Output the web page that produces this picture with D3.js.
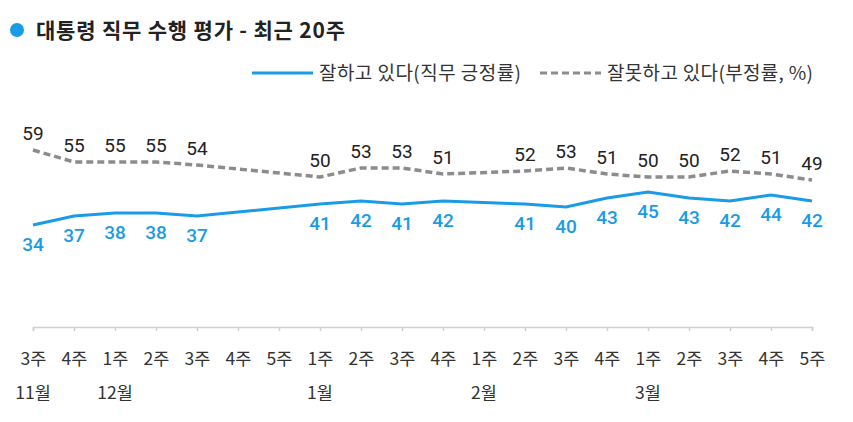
<!DOCTYPE html>
<html><head><meta charset="utf-8">
<script src="https://cdn.jsdelivr.net/npm/d3@7"></script>
<style>
body{margin:0;background:#fff;font-family:"Noto Sans CJK KR","Noto Sans",sans-serif;}
</style></head>
<body><svg id="c" width="853" height="422"></svg>
<script>
const weeks = ["3주","4주","1주","2주","3주","4주","5주","1주","2주","3주","4주","1주","2주","3주","4주","1주","2주","3주","4주","5주"];
const months = ["11월","","12월","","","","","1월","","","","2월","","","","3월","","","",""];
const positive = [34,37,38,38,37,null,null,41,42,41,42,null,41,40,43,45,43,42,44,42];
const negative = [59,55,55,55,54,null,null,50,53,53,51,null,52,53,51,50,50,52,51,49];

const svg = d3.select("#c");
const idx = d3.range(weeks.length);
const x = d3.scalePoint().domain(idx).range([33, 812]);
const y = d3.scaleLinear().domain([0, 100]).range([327, 27]);

const blue = "#1a9be6", gray = "#8c8c8c";

// title
svg.append("circle").attr("cx",17).attr("cy",30).attr("r",7).attr("fill",blue);
svg.append("text").attr("x",36).attr("y",38).attr("font-size",21).attr("font-weight",700)
  .attr("fill","#222").attr("textLength",309).attr("lengthAdjust","spacing")
  .text("대통령 직무 수행 평가 - 최근 20주");

// legend
svg.append("line").attr("x1",252).attr("x2",313).attr("y1",73).attr("y2",73).attr("stroke",blue).attr("stroke-width",3);
svg.append("text").attr("x",319).attr("y",80).attr("font-size",19).attr("fill","#333")
  .attr("textLength",202).attr("lengthAdjust","spacing").text("잘하고 있다(직무 긍정률)");
svg.append("line").attr("x1",540).attr("x2",601).attr("y1",73).attr("y2",73).attr("stroke",gray).attr("stroke-width",3).attr("stroke-dasharray","7,4");
svg.append("text").attr("x",607).attr("y",80).attr("font-size",19).attr("fill","#333")
  .attr("textLength",206).attr("lengthAdjust","spacing").text("잘못하고 있다(부정률, %)");

// axis
const ax = svg.append("g").attr("transform","translate(0,327)")
  .call(d3.axisBottom(x).tickSize(4).tickFormat(i => weeks[i]));
ax.select(".domain").attr("stroke","#d0d0d0").attr("stroke-width",1.5);
ax.selectAll(".tick line").attr("stroke","#d0d0d0").attr("stroke-width",1.5);
ax.selectAll(".tick text").attr("font-size",17.5).attr("fill","#333").attr("dy",0).attr("y",38)
  .attr("font-family","'Noto Sans CJK KR',sans-serif");
svg.append("g").selectAll("text").data(idx.filter(i => months[i])).join("text")
  .attr("x", i => x(i)).attr("y", 399).attr("text-anchor","middle")
  .attr("font-size",17.5).attr("fill","#333").text(i => months[i]);

// lines
const mk = arr => d3.line().x(d => x(d)).y(d => y(arr[d]));
const defP = idx.filter(i => positive[i] != null);
const defN = idx.filter(i => negative[i] != null);
svg.append("path").attr("d", mk(negative)(defN)).attr("fill","none").attr("stroke",gray)
  .attr("stroke-width",3.5).attr("stroke-dasharray","7,4");
svg.append("path").attr("d", mk(positive)(defP)).attr("fill","none").attr("stroke",blue)
  .attr("stroke-width",3);

// labels
svg.append("g").selectAll("text").data(defN).join("text")
  .attr("x", i => x(i)).attr("y", i => y(negative[i]) - 10).attr("text-anchor","middle")
  .attr("font-family","Roboto,sans-serif").attr("font-size",19).attr("fill","#222").text(i => negative[i]);
svg.append("g").selectAll("text").data(defP).join("text")
  .attr("x", i => x(i)).attr("y", i => y(positive[i]) + 26).attr("text-anchor","middle")
  .attr("font-family","Roboto,sans-serif").attr("font-size",19).attr("font-weight",500).attr("fill",blue).text(i => positive[i]);
</script></body></html>
